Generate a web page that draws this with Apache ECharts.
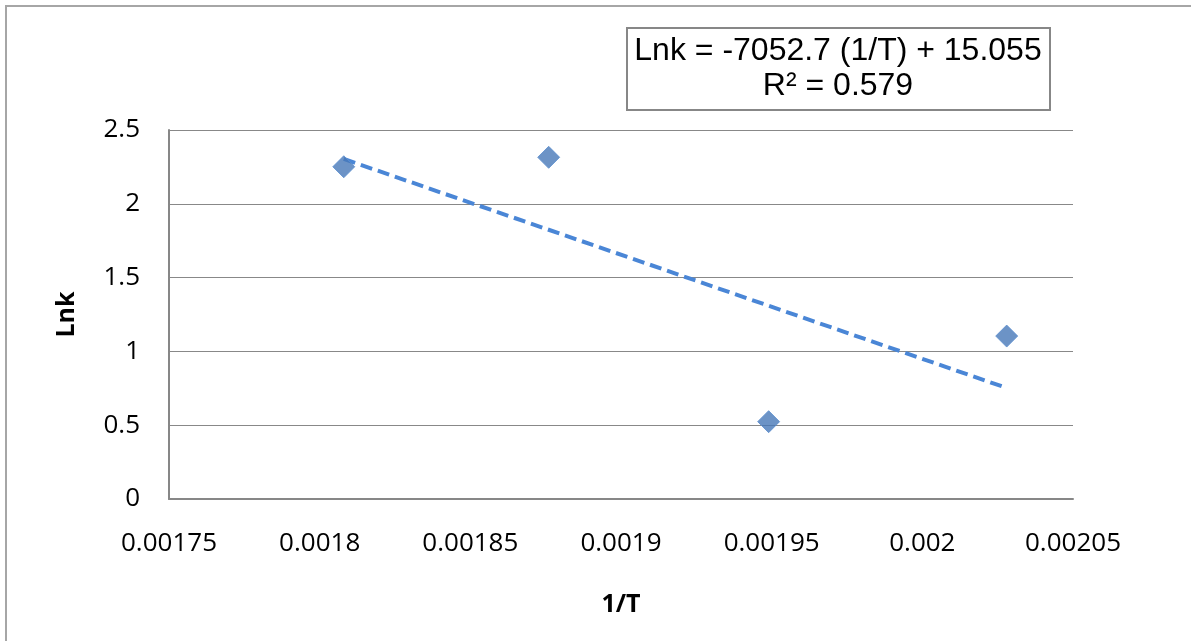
<!DOCTYPE html>
<html>
<head>
<meta charset="utf-8">
<script src="https://cdn.jsdelivr.net/npm/echarts@6/dist/echarts.min.js"></script>
<style>
  html, body { margin: 0; padding: 0; background: #ffffff; }
  #chart { width: 1191px; height: 641px; }
</style>
</head>
<body>
<div id="chart"></div>
<script>
// Arrhenius data: reciprocal temperature vs. ln k
const invT = [0.001808, 0.001876, 0.001949, 0.002028];
const lnk = [2.251, 2.315, 0.524, 1.104];

// Linear fit reported in the label box
const slope = -7052.7;
const intercept = 15.055;
const r2 = 0.579;

const xTicks = [0.00175, 0.0018, 0.00185, 0.0019, 0.00195, 0.002, 0.00205];
const yTicks = [0, 0.5, 1, 1.5, 2, 2.5];

const points = invT.map((x, i) => [x, lnk[i]]);
const xLo = Math.min(...invT), xHi = Math.max(...invT);
const fitLine = [[xLo, slope * xLo + intercept], [xHi, slope * xHi + intercept]];

const tickFont = '"Open Sans", Lato, sans-serif';

const chart = echarts.init(document.getElementById('chart'), null, { renderer: 'canvas' });
chart.setOption({
  animation: false,
  backgroundColor: '#ffffff',
  grid: { left: 169, right: 118, top: 130, bottom: 142, containLabel: false },
  xAxis: {
    type: 'value',
    min: xTicks[0],
    max: xTicks[xTicks.length - 1],
    interval: 0.00005,
    name: '1/T',
    nameLocation: 'middle',
    nameGap: 106,
    nameTextStyle: { fontFamily: tickFont, fontWeight: 'bold', fontSize: 25, color: '#000', verticalAlign: 'middle' },
    axisLine: { show: true, lineStyle: { color: '#878787', width: 2 } },
    axisTick: { show: false },
    splitLine: { show: false },
    axisLabel: {
      margin: 32,
      fontFamily: tickFont, fontSize: 26, color: '#000',
      formatter: v => String(parseFloat(v.toFixed(6)))
    }
  },
  yAxis: {
    type: 'value',
    min: yTicks[0],
    max: yTicks[yTicks.length - 1],
    interval: 0.5,
    name: 'Lnk',
    nameLocation: 'middle',
    nameGap: 102,
    nameRotate: 90,
    nameTextStyle: { fontFamily: tickFont, fontWeight: 'bold', fontSize: 25, color: '#000', verticalAlign: 'middle' },
    axisLine: { show: true, lineStyle: { color: '#878787', width: 2 } },
    axisTick: { show: false },
    splitLine: { show: true, lineStyle: { color: '#888888', width: 1 } },
    axisLabel: {
      margin: 29,
      fontFamily: tickFont, fontSize: 26, color: '#000',
      formatter: v => String(parseFloat(v.toFixed(2)))
    }
  },
  series: [
    {
      name: 'Lnk',
      type: 'scatter',
      data: points,
      symbol: 'diamond',
      symbolSize: [22, 22],
      itemStyle: { color: '#4778b8', borderColor: '#5b8fcf', borderWidth: 1 },
      z: 3
    },
    {
      name: 'fit',
      type: 'line',
      data: fitLine,
      symbol: 'none',
      lineStyle: { color: '#4a86d6', width: 4, type: [12, 6] },
      z: 2
    }
  ],
  graphic: [
    {
      type: 'rect',
      shape: { x: 6, y: 6, width: 1300, height: 800 },
      style: { fill: 'none', stroke: '#a6a6a6', lineWidth: 2 },
      silent: true, z: -1
    },
    {
      type: 'rect',
      shape: { x: 627, y: 28, width: 423, height: 82 },
      style: { fill: '#ffffff', stroke: '#878787', lineWidth: 2 },
      z: 10
    },
    {
      type: 'text',
      x: 838, y: 51,
      style: {
        text: 'Lnk = ' + slope + ' (1/T) + ' + intercept,
        font: '32px "Liberation Sans", Arial, sans-serif',
        fill: '#000', align: 'center', verticalAlign: 'middle'
      },
      z: 11
    },
    {
      type: 'text',
      x: 838, y: 86,
      style: {
        text: 'R² = ' + r2,
        font: '32px "Liberation Sans", Arial, sans-serif',
        fill: '#000', align: 'center', verticalAlign: 'middle'
      },
      z: 11
    }
  ]
});
</script>
</body>
</html>
